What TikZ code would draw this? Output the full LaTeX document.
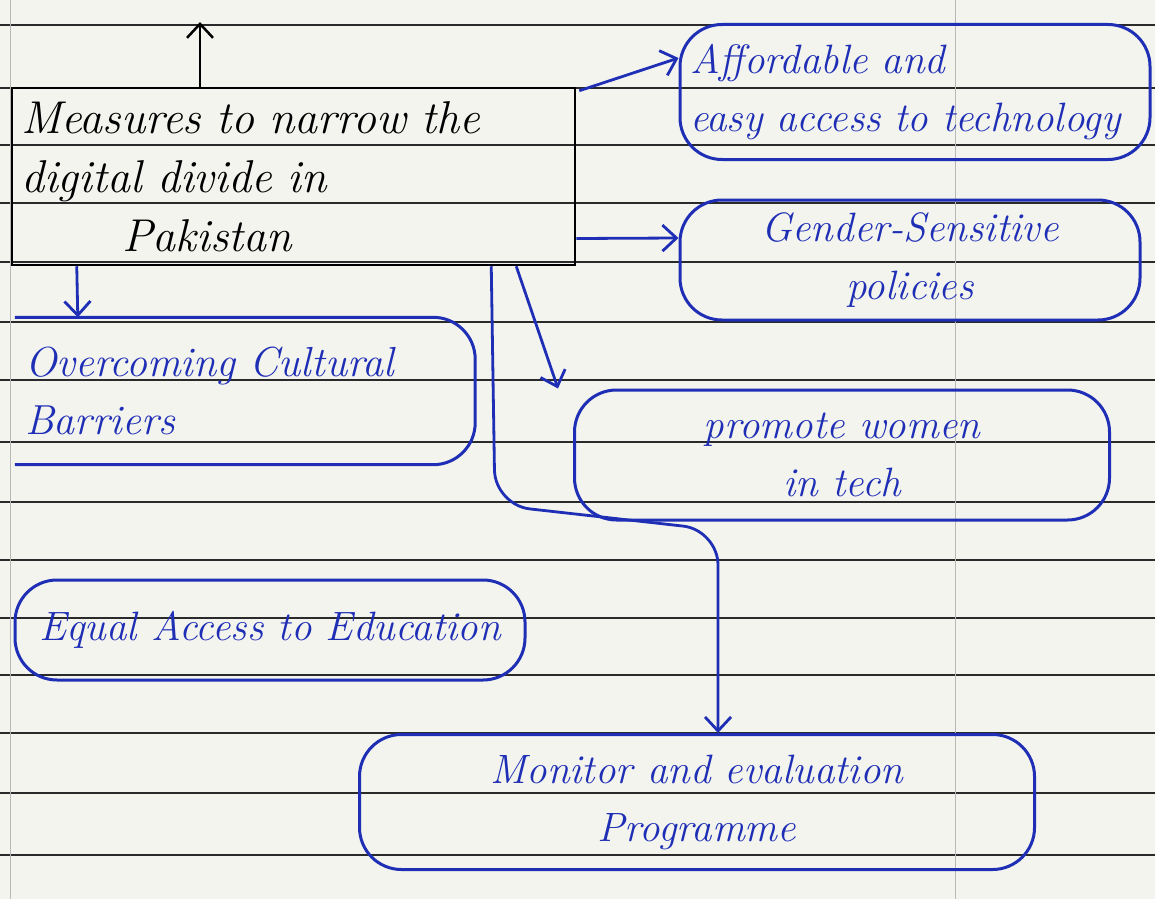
\documentclass[tikz,border=0pt]{standalone}
\usepackage{fontspec}
\usetikzlibrary{arrows.meta,calc}
\definecolor{ink}{HTML}{1F2FB5}
\definecolor{paper}{HTML}{F4F4EF}
\definecolor{ruleline}{HTML}{2A2A2A}
\definecolor{margin}{HTML}{B8B8B8}
\begin{document}
\begin{tikzpicture}[x=1pt,y=-1pt,
  inkbox/.style={draw=ink, line width=3pt, rounded corners=42pt, text=ink,
    font=\fontsize{41}{58}\selectfont\itshape, inner sep=6pt},
  mainbox/.style={draw=black, line width=2.5pt, text=black,
    font=\fontsize{46}{59}\selectfont\itshape, inner sep=8pt},
  inkarrow/.style={draw=ink, line width=2.8pt, -{Straight Barb[length=14pt,width=26pt]}},
  blackarrow/.style={draw=black, line width=2.5pt, -{Straight Barb[length=14pt,width=26pt]}},
  paperline/.style={draw=ruleline, line width=1.3pt},
  marginline/.style={draw=margin, line width=1pt}]
\useasboundingbox (0,0) rectangle (1155,899);
\fill[paper] (0,0) rectangle (1155,899);
% ruled paper
\foreach \yy in {25,88,145,203,262,322,380,442,502,560,618,675,733,793,855}
  \draw[paperline] (0,\yy) -- (1155,\yy);
\draw[marginline] (10,0) -- (10,899);
\draw[marginline] (955,0) -- (955,899);
% central box
\node[mainbox, minimum width=563pt, minimum height=177pt, text width=545pt, align=left] (main) at (293.5,176.5)
  {Measures to narrow the\\digital divide in\\\hspace*{2.2em}Pakistan};
% branches
\node[inkbox, minimum width=470pt, minimum height=135pt, text width=450pt, align=left] (aff) at (915,92)
  {Affordable and\\easy access to technology};
\node[inkbox, minimum width=460pt, minimum height=120pt, align=center] (gen) at (910,260)
  {Gender-Sensitive\\policies};
\node[minimum width=460pt, minimum height=147pt, text width=440pt, align=left, inner sep=6pt, text=ink,
  font=\fontsize{42}{58}\selectfont\itshape] (cult) at (245,391)
  {Overcoming Cultural\\Barriers};
\draw[draw=ink, line width=3pt, rounded corners=42pt] (cult.north west) -- (cult.north east) -- (cult.south east) -- (cult.south west);
\node[inkbox, minimum width=535pt, minimum height=130pt, align=center] (women) at (842,455)
  {promote women\\in tech};
\node[inkbox, minimum width=510pt, minimum height=100pt, align=center] (edu) at (270,630)
  {Equal Access to Education};
\node[inkbox, minimum width=675pt, minimum height=135pt, align=center] (mon) at (697,802)
  {Monitor and evaluation\\Programme};
% connectors
\coordinate (top) at (200,22);
\draw[blackarrow] (main.north -| top) -- (top);
\draw[inkarrow] ([shift={(3pt,-4pt)}]main.north east) -- ([yshift=34pt]aff.west);
\draw[inkarrow] ([yshift=-62pt]main.east) -- ([yshift=22pt]gen.west);
\draw[inkarrow] ([xshift=66pt]main.south west) -- ([xshift=63pt]cult.north west);
\draw[inkarrow] ([xshift=-60pt]main.south east) -- ([xshift=-15pt]women.north west);
\coordinate (m1) at (495,505);
\coordinate (m2) at (718,530);
\draw[inkarrow, rounded corners=35pt] ([xshift=-85pt]main.south east) -- (m1) -- (m2) -- (mon.north -| m2);
\end{tikzpicture}
\end{document}
